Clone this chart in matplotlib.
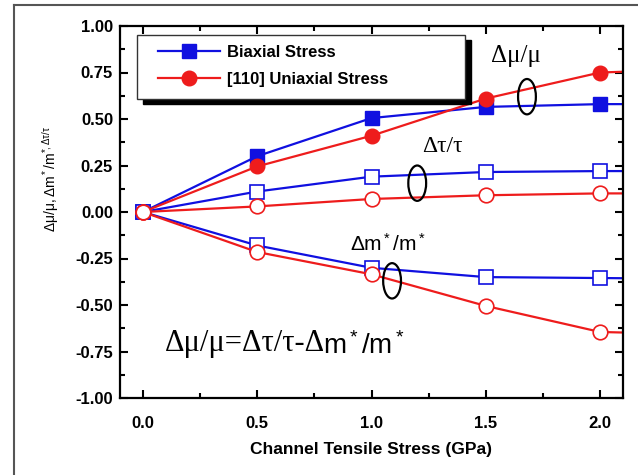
import matplotlib
matplotlib.use("Agg")
import matplotlib.pyplot as plt
from matplotlib.patches import Ellipse, Rectangle
from matplotlib.lines import Line2D
from matplotlib.ticker import MultipleLocator, FormatStrFormatter

plt.rcParams['font.family'] = ['Liberation Sans', 'DejaVu Sans']
plt.rcParams['mathtext.fontset'] = 'custom'
plt.rcParams['mathtext.rm'] = 'Liberation Sans'
plt.rcParams['mathtext.it'] = 'Liberation Sans:italic'
plt.rcParams['mathtext.bf'] = 'Liberation Sans:bold'
plt.rcParams['mathtext.sf'] = 'Liberation Sans'

# Channel tensile stress (GPa); the last point lies past the plotted range
stress = [0.0, 0.5, 1.0, 1.5, 2.0, 2.5]

# Biaxial stress
bi_mobility = [0.0, 0.30, 0.505, 0.565, 0.58, 0.58]
bi_tau = [0.0, 0.11, 0.19, 0.215, 0.22, 0.22]
bi_mass = [0.0, -0.18, -0.30, -0.35, -0.355, -0.36]

# [110] uniaxial stress
uni_mobility = [0.0, 0.245, 0.41, 0.61, 0.75, 0.77]
uni_tau = [0.0, 0.03, 0.07, 0.09, 0.10, 0.10]
uni_mass = [0.0, -0.215, -0.335, -0.505, -0.645, -0.66]

x_ticks = [0.0, 0.5, 1.0, 1.5, 2.0]
y_ticks = [-1.00, -0.75, -0.50, -0.25, 0.00, 0.25, 0.50, 0.75, 1.00]

BLUE = '#1010e0'
RED = '#ee1c1c'

fig = plt.figure(figsize=(6.38, 4.75), dpi=100)
ax = fig.add_axes([120 / 638, 1 - 398 / 475, 503 / 638, 372 / 475])

lw = 1.6
ms_sq = 9.5
ms_ci = 10.5

# open markers: effective mass and scattering time
ax.plot(stress, bi_tau, '-s', color=BLUE, lw=lw, ms=ms_sq, mfc='white', mec=BLUE, mew=1.2)
ax.plot(stress, bi_mass, '-s', color=BLUE, lw=lw, ms=ms_sq, mfc='white', mec=BLUE, mew=1.2)
ax.plot(stress, uni_tau, '-o', color=RED, lw=lw, ms=ms_ci, mfc='white', mec=RED, mew=1.2)
ax.plot(stress, uni_mass, '-o', color=RED, lw=lw, ms=ms_ci, mfc='white', mec=RED, mew=1.2)
# filled markers: mobility
ax.plot(stress[1:], bi_mobility[1:], '-s', color=BLUE, lw=lw, ms=ms_sq, mfc=BLUE, mec=BLUE)
ax.plot(stress[1:], uni_mobility[1:], '-o', color=RED, lw=lw, ms=ms_ci, mfc=RED, mec=RED)
ax.plot(stress[:2], bi_mobility[:2], '-', color=BLUE, lw=lw)
ax.plot(stress[:2], uni_mobility[:2], '-', color=RED, lw=lw)
ax.plot(stress[:1], uni_tau[:1], 'o', ms=ms_ci, mfc='white', mec=RED, mew=1.2, zorder=5)

ax.set_xlim(-0.1, 2.1)
ax.set_ylim(-1.0, 1.0)
ax.set_xticks(x_ticks)
ax.set_yticks(y_ticks)
ax.xaxis.set_minor_locator(MultipleLocator(0.25))
ax.yaxis.set_minor_locator(MultipleLocator(0.125))
ax.xaxis.set_major_formatter(FormatStrFormatter('%.1f'))
ax.yaxis.set_major_formatter(FormatStrFormatter('%.2f'))
ax.tick_params(which='both', direction='in', top=True, right=True, width=1.5)
ax.tick_params(which='major', length=5.5)
ax.tick_params(which='minor', length=3.5)
ax.tick_params(axis='x', which='major', pad=13)
ax.tick_params(axis='y', which='major', pad=5)
for lab in ax.get_xticklabels() + ax.get_yticklabels():
    lab.set_fontweight('bold')
    lab.set_fontsize(12)
for sp in ax.spines.values():
    sp.set_linewidth(1.6)

ax.set_xlabel('Channel Tensile Stress (GPa)', fontsize=12.5, fontweight='bold', labelpad=8)
ax.set_ylabel(r'$\mathrm{\Delta\mu/\mu,\Delta m^*/m^{*,\Delta\tau/\tau}}$', fontsize=10)
ax.yaxis.set_label_coords(-0.118, 0.59)

# curve group markers
for cx, cy in [(1.68, 0.62), (1.2, 0.155), (1.09, -0.37)]:
    ax.add_patch(Ellipse((cx, cy), 0.078, 0.19, fill=False, ec='black', lw=1.6, zorder=6))

serif = ['Liberation Serif', 'DejaVu Serif']
ax.text(1.63, 0.84, 'Δμ/μ', fontsize=18, family=serif, ha='center', va='center')
ax.text(1.31, 0.35, 'Δτ/τ', fontsize=17, family=serif, ha='center', va='center')
ax.text(1.07, -0.17, r'$\mathrm{\Delta m^*/m^*}$', fontsize=15, ha='center', va='center')

# relation between mobility, scattering time and effective mass
eq_left = ax.text(0.095, -0.75, 'Δμ/μ=Δτ/τ-Δ', fontsize=22, family=serif,
                  ha='left', va='baseline')
ax.annotate(r'$\mathrm{m^*/m^*}$', xy=(1, 0), xycoords=eq_left, xytext=(-1.5, -0.9),
            textcoords='offset points', fontsize=20, ha='left', va='bottom')

# legend box with a solid drop shadow
bx, by, bw, bh = 0.034, 0.804, 0.652, 0.172
ax.add_patch(Rectangle((bx + 0.011, by - 0.014), bw, bh, transform=ax.transAxes,
                       fc='black', ec='black', zorder=7))
ax.add_patch(Rectangle((bx, by), bw, bh, transform=ax.transAxes,
                       fc='white', ec='#333333', lw=1.0, zorder=8))
handles = [Line2D([], [], color=BLUE, lw=lw, marker='s', ms=ms_sq),
           Line2D([], [], color=RED, lw=lw, marker='o', ms=ms_ci)]
leg = ax.legend(handles, ['Biaxial Stress', '[110] Uniaxial Stress'],
                loc='upper left', bbox_to_anchor=(0.0755, 0.95), frameon=False,
                borderpad=0, borderaxespad=0, handlelength=3.7, handletextpad=0.45,
                labelspacing=0.75, prop={'weight': 'bold', 'size': 12})
leg.set_zorder(9)

# outer frame
fig.add_artist(Line2D([14 / 638, 14 / 638], [0, 1 - 5 / 475], color='#555555', lw=1.5))
fig.add_artist(Line2D([14 / 638, 1], [1 - 5 / 475, 1 - 5 / 475], color='#555555', lw=1.5))

fig.savefig('out.png', dpi=100)
